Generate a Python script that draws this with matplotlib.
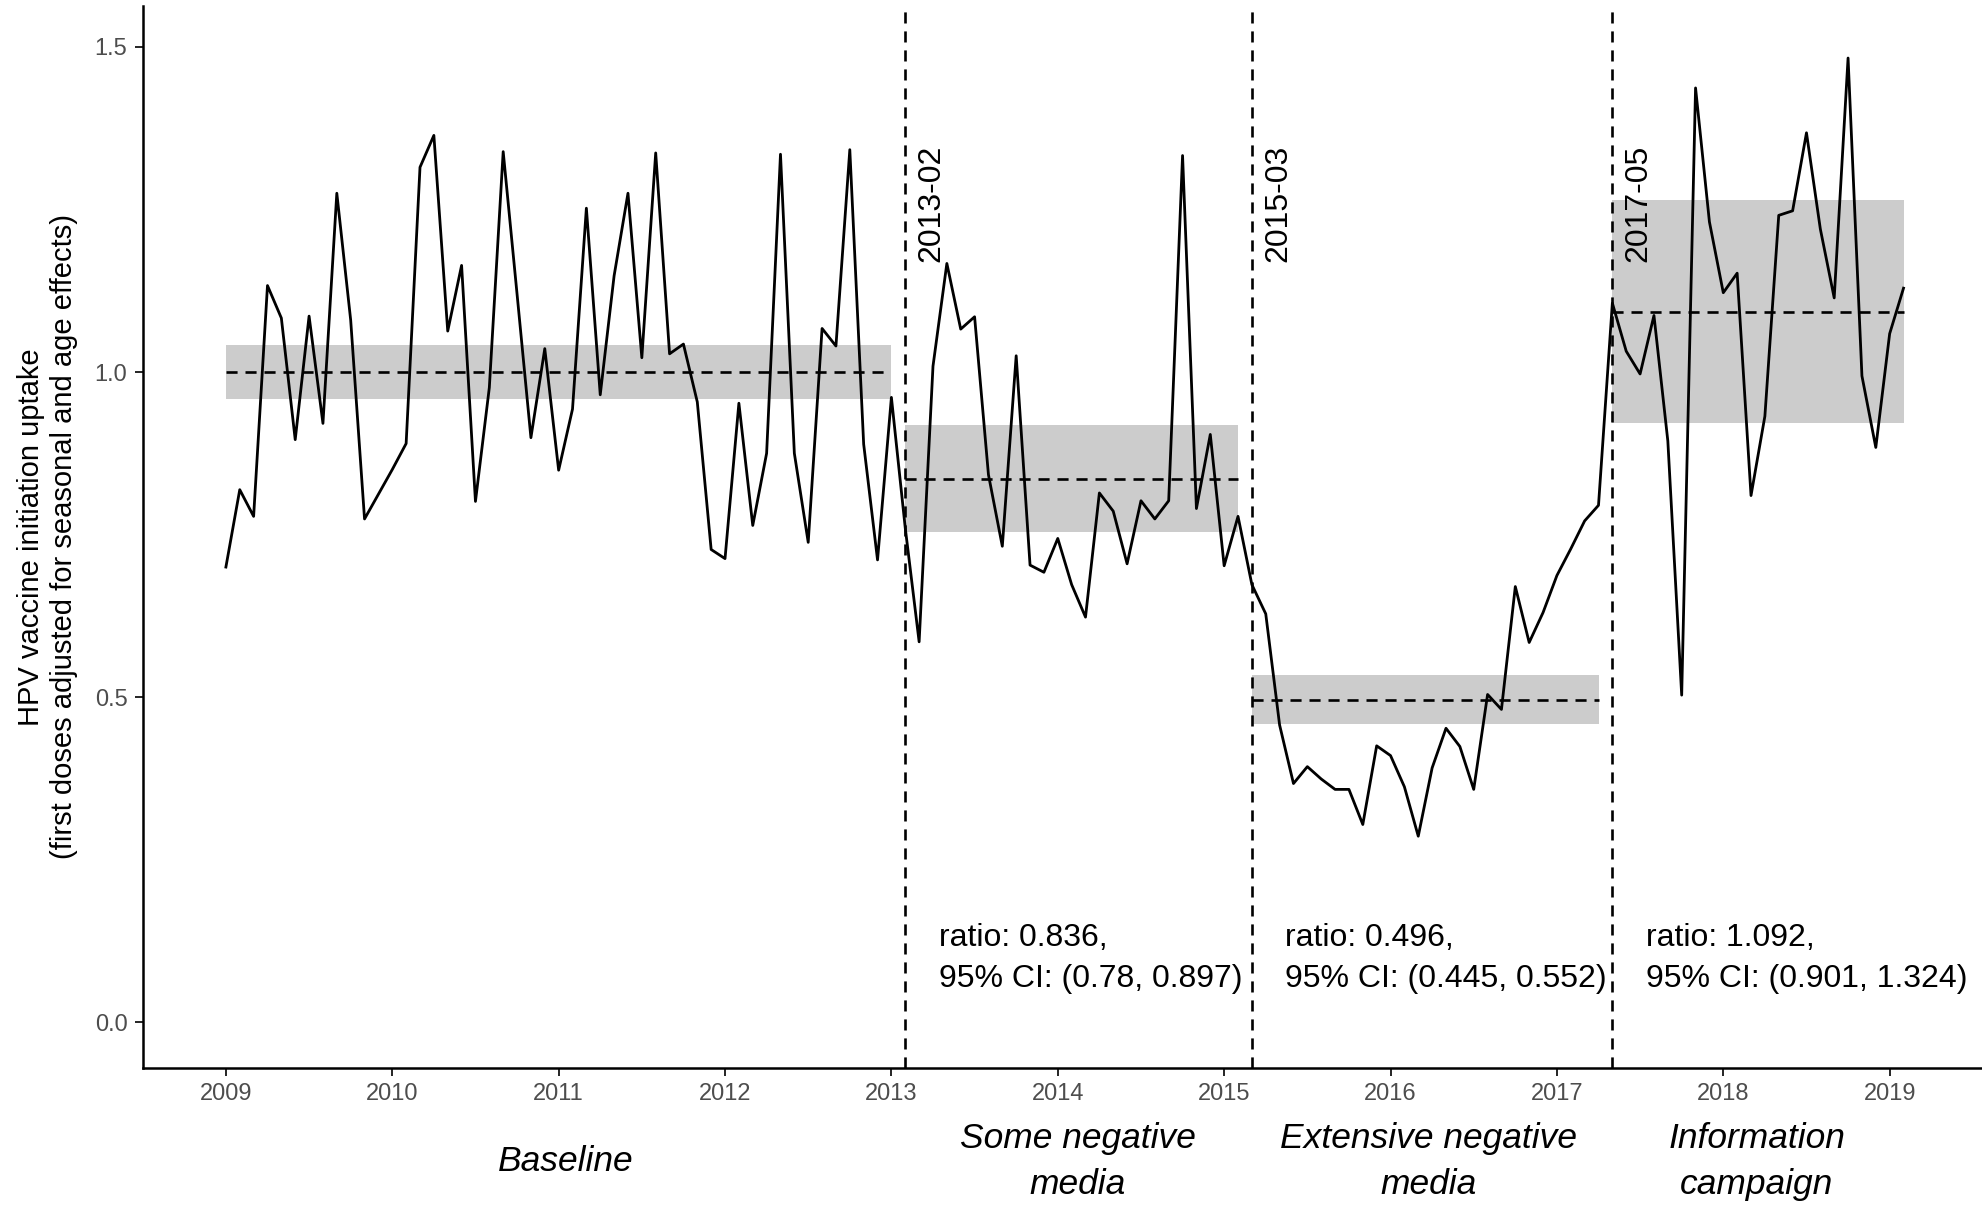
import numpy as np
import matplotlib
matplotlib.use('Agg')
import matplotlib.pyplot as plt
import matplotlib.transforms as mtransforms

plt.rcParams['font.family'] = ['Liberation Sans', 'DejaVu Sans']

# 月度数据：2009-01 到 2019-02，共 122 个点
start_year = 2009
uptake = [
    0.700, 0.819, 0.778, 1.133, 1.083, 0.896, 1.086, 0.921, 1.275, 1.080, 0.774, 0.812,
    0.850, 0.890, 1.315, 1.364, 1.063, 1.164, 0.801, 0.976, 1.339, 1.120, 0.899, 1.036,
    0.849, 0.943, 1.252, 0.965, 1.148, 1.275, 1.022, 1.337, 1.028, 1.043, 0.954, 0.727,
    0.713, 0.952, 0.764, 0.875, 1.335, 0.875, 0.738, 1.067, 1.040, 1.342, 0.889, 0.711,
    0.961, 0.760, 0.585, 1.009, 1.167, 1.066, 1.085, 0.842, 0.732, 1.025, 0.703, 0.692,
    0.744, 0.673, 0.623, 0.814, 0.786, 0.705, 0.802, 0.774, 0.802, 1.333, 0.790, 0.904,
    0.702, 0.778, 0.673, 0.628, 0.457, 0.367, 0.393, 0.374, 0.358, 0.358, 0.304, 0.425,
    0.410, 0.362, 0.286, 0.391, 0.452, 0.424, 0.358, 0.504, 0.481, 0.670, 0.584, 0.630,
    0.687, 0.728, 0.771, 0.795, 1.106, 1.032, 0.997, 1.087, 0.894, 0.503, 1.437, 1.231,
    1.122, 1.152, 0.810, 0.932, 1.241, 1.248, 1.368, 1.220, 1.114, 1.483, 0.994, 0.884,
    1.059, 1.129,
]

# 各阶段：起止月序号、均值、阴影带上下限
seg_start = [0, 49, 74, 100]
seg_end = [48, 73, 99, 121]
seg_mean = [1.0, 0.836, 0.496, 1.092]
band_low = [0.959, 0.754, 0.459, 0.922]
band_high = [1.041, 0.919, 0.534, 1.264]

# 干预时间点
change_labels = ['2013-02', '2015-03', '2017-05']
ratio_text = [
    'ratio: 0.836,\n95% CI: (0.78, 0.897)',
    'ratio: 0.496,\n95% CI: (0.445, 0.552)',
    'ratio: 1.092,\n95% CI: (0.901, 1.324)',
]
period_names = ['Baseline', 'Some negative\nmedia', 'Extensive negative\nmedia',
                'Information\ncampaign']
period_pos = [2011.04, 2014.12, 2016.23, 2018.2]

t = start_year + np.arange(len(uptake)) / 12.0

fig = plt.figure(figsize=(19.82, 12.05), dpi=100)
ax = fig.add_axes([0.072, 0.114, 0.928, 0.881])

for s, e, m, lo, hi in zip(seg_start, seg_end, seg_mean, band_low, band_high):
    ax.fill_between([t[s], t[e]], lo, hi, color='#CCCCCC', lw=0, zorder=1)
    ax.plot([t[s], t[e]], [m, m], color='black', lw=1.9, dashes=(4.2, 3), zorder=3)

ax.plot(t, uptake, color='black', lw=2.0, zorder=4)

for i, lab in enumerate(change_labels):
    x0 = t[seg_start[i + 1]]
    ax.axvline(x0, color='black', lw=1.9, dashes=(4.2, 3), zorder=2)
    off = mtransforms.offset_copy(ax.transData, fig=fig, x=8, y=0, units='points')
    ax.text(x0, 1.17, lab, rotation=90, ha='left', va='bottom', fontsize=23,
            transform=off, zorder=5)
    ax.text(x0 + 0.2, 0.098, ratio_text[i], ha='left', va='center', fontsize=23,
            linespacing=1.45, zorder=5)

ax.set_xlim(2008.5, 2019.555)
ax.set_ylim(-0.07, 1.563)
ax.set_xticks(range(2009, 2020))
ax.set_yticks([0.0, 0.5, 1.0, 1.5])
ax.set_yticklabels(['0.0', '0.5', '1.0', '1.5'])
ax.tick_params(axis='both', labelsize=17, labelcolor='#4D4D4D', length=6, width=1.2, pad=5)

for side in ['top', 'right']:
    ax.spines[side].set_visible(False)
for side in ['left', 'bottom']:
    ax.spines[side].set_linewidth(1.8)

ax.set_ylabel('HPV vaccine initiation uptake\n(first doses adjusted for seasonal and age effects)',
              fontsize=21, labelpad=12, linespacing=1.25)

trans = mtransforms.blended_transform_factory(ax.transData, fig.transFigure)
for name, xp in zip(period_names, period_pos):
    ax.text(xp, 0.036, name, transform=trans, ha='center', va='center', fontsize=25.5,
            style='italic', linespacing=1.5)

fig.savefig('out.png', dpi=100)
